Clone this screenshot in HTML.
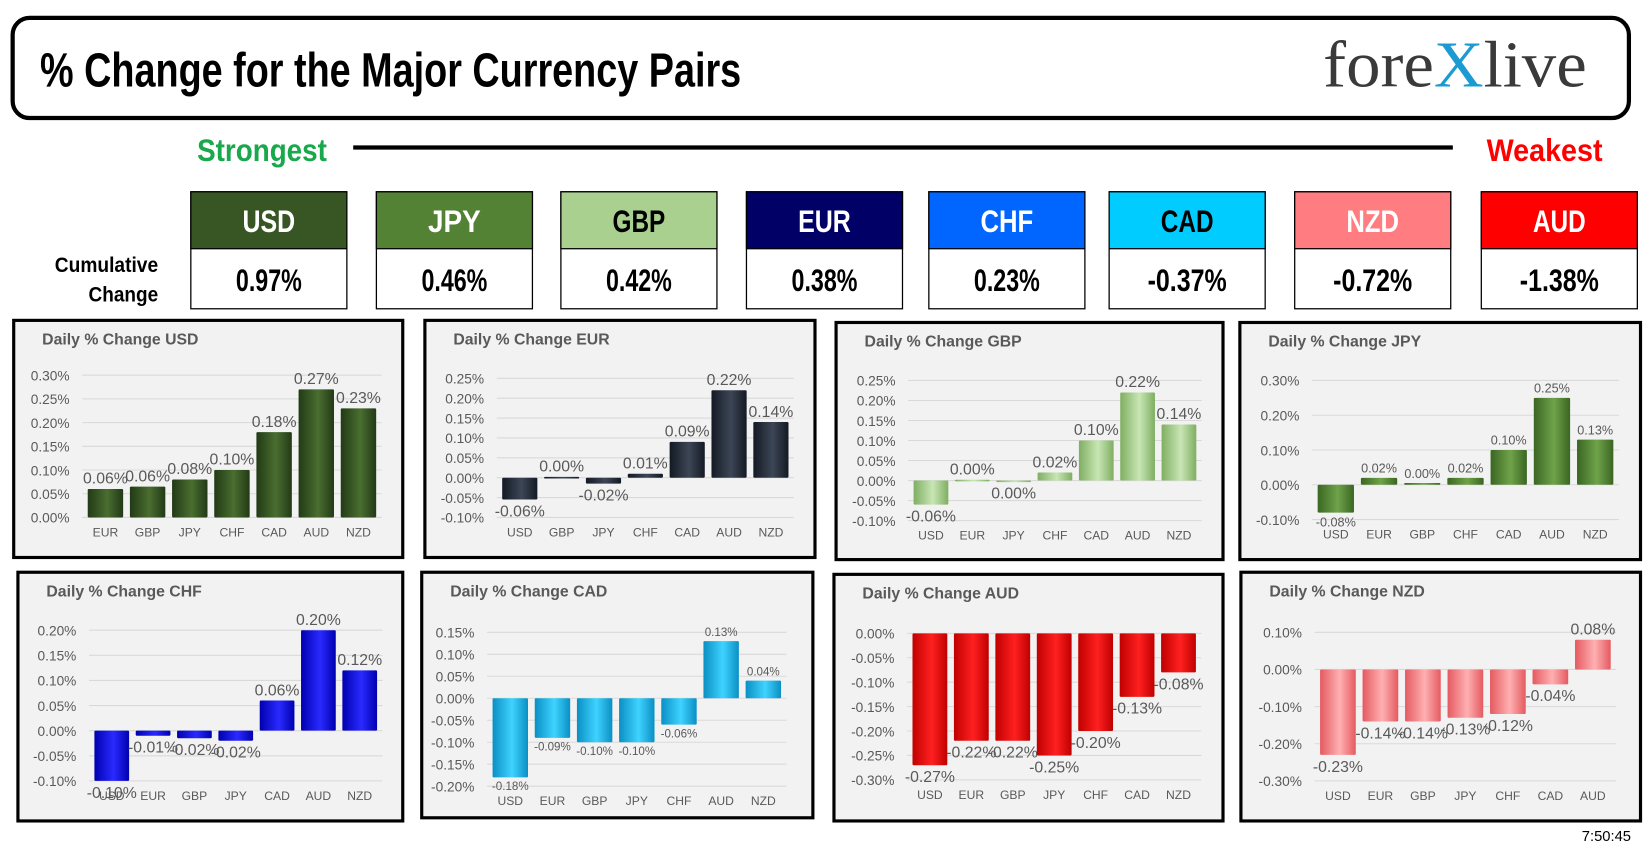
<!DOCTYPE html>
<html><head><meta charset="utf-8">
<style>
html,body{margin:0;padding:0;background:#fff;width:1650px;height:861px;overflow:hidden}
svg{display:block}
.cond{font-family:"Liberation Sans Narrow","Liberation Sans",sans-serif;font-weight:bold}
.ax{font-family:"Liberation Sans",sans-serif;fill:#595959}
</style></head><body>
<svg id="page" width="1650" height="861" viewBox="0 0 1565 817" preserveAspectRatio="none" xmlns="http://www.w3.org/2000/svg">
<defs></defs>
<rect x="12" y="17" width="1533" height="95" rx="16" fill="#fff" stroke="#000" stroke-width="4"/>
<text class="cond" x="38" y="82" font-size="46" textLength="665" lengthAdjust="spacingAndGlyphs" fill="#000">% Change for the Major Currency Pairs</text>
<text x="1255" y="82" font-family="'Liberation Serif',serif" font-size="62" textLength="250" lengthAdjust="spacingAndGlyphs" fill="#3a3a3a">fore<tspan fill="#1b9bd1">X</tspan>live</text>
<text class="cond" x="187" y="153" font-size="30" textLength="123" lengthAdjust="spacingAndGlyphs" fill="#19a84b">Strongest</text>
<line x1="335" y1="140" x2="1378" y2="140" stroke="#000" stroke-width="4"/>
<text class="cond" x="1410" y="153" font-size="30" textLength="110" lengthAdjust="spacingAndGlyphs" fill="#f00">Weakest</text>
<text class="cond" x="52" y="258" font-size="20" textLength="98" lengthAdjust="spacingAndGlyphs" fill="#000">Cumulative</text>
<text class="cond" x="84" y="286" font-size="20" textLength="66" lengthAdjust="spacingAndGlyphs" fill="#000">Change</text>
<g id="boxes"></g>
<g id="charts"></g>
<text x="1547" y="798" font-family="'Liberation Sans',sans-serif" font-size="14" text-anchor="end" fill="#000">7:50:45</text>
</svg>
<script>
const NS="http://www.w3.org/2000/svg";
const boxCurrencies=["USD","JPY","GBP","EUR","CHF","CAD","NZD","AUD"];
const boxValues=["0.97%","0.46%","0.42%","0.38%","0.23%","-0.37%","-0.72%","-1.38%"];
const boxColors=["#375623","#548235","#a9d08e","#000066","#0066ff","#00ccff","#ff7c80","#ff0000"];
const boxText=["#fff","#fff","#000","#fff","#fff","#000","#fff","#fff"];
const boxX=[181,357,532,708,881,1052,1228,1405];

const usdCats=["EUR","GBP","JPY","CHF","CAD","AUD","NZD"];
const usdVals=[0.06,0.065,0.08,0.10,0.18,0.27,0.23];
const usdLabels=["0.06%","0.06%","0.08%","0.10%","0.18%","0.27%","0.23%"];
const usdTicks=[0,0.05,0.10,0.15,0.20,0.25,0.30];

const eurCats=["USD","GBP","JPY","CHF","CAD","AUD","NZD"];
const eurVals=[-0.055,0.002,-0.015,0.01,0.09,0.22,0.14];
const eurLabels=["-0.06%","0.00%","-0.02%","0.01%","0.09%","0.22%","0.14%"];
const eurTicks=[-0.10,-0.05,0,0.05,0.10,0.15,0.20,0.25];

const gbpCats=["USD","EUR","JPY","CHF","CAD","AUD","NZD"];
const gbpVals=[-0.06,0.002,-0.003,0.02,0.10,0.22,0.14];
const gbpLabels=["-0.06%","0.00%","0.00%","0.02%","0.10%","0.22%","0.14%"];
const gbpTicks=[-0.10,-0.05,0,0.05,0.10,0.15,0.20,0.25];

const jpyCats=["USD","EUR","GBP","CHF","CAD","AUD","NZD"];
const jpyVals=[-0.08,0.02,0.005,0.02,0.10,0.25,0.13];
const jpyLabels=["-0.08%","0.02%","0.00%","0.02%","0.10%","0.25%","0.13%"];
const jpyTicks=[-0.10,0,0.10,0.20,0.30];

const chfCats=["USD","EUR","GBP","JPY","CAD","AUD","NZD"];
const chfVals=[-0.10,-0.01,-0.015,-0.02,0.06,0.20,0.12];
const chfLabels=["-0.10%","-0.01%","-0.02%","-0.02%","0.06%","0.20%","0.12%"];
const chfTicks=[-0.10,-0.05,0,0.05,0.10,0.15,0.20];

const cadCats=["USD","EUR","GBP","JPY","CHF","AUD","NZD"];
const cadVals=[-0.18,-0.09,-0.10,-0.10,-0.06,0.13,0.04];
const cadLabels=["-0.18%","-0.09%","-0.10%","-0.10%","-0.06%","0.13%","0.04%"];
const cadTicks=[-0.20,-0.15,-0.10,-0.05,0,0.05,0.10,0.15];

const audCats=["USD","EUR","GBP","JPY","CHF","CAD","NZD"];
const audVals=[-0.27,-0.22,-0.22,-0.25,-0.20,-0.13,-0.08];
const audLabels=["-0.27%","-0.22%","-0.22%","-0.25%","-0.20%","-0.13%","-0.08%"];
const audTicks=[-0.30,-0.25,-0.20,-0.15,-0.10,-0.05,0];

const nzdCats=["USD","EUR","GBP","JPY","CHF","CAD","AUD"];
const nzdVals=[-0.23,-0.14,-0.14,-0.13,-0.12,-0.04,0.08];
const nzdLabels=["-0.23%","-0.14%","-0.14%","-0.13%","-0.12%","-0.04%","0.08%"];
const nzdTicks=[-0.30,-0.20,-0.10,0,0.10];

function el(tag,attrs,parent,text){
  const e=document.createElementNS(NS,tag);
  for(const k in attrs)e.setAttribute(k,attrs[k]);
  if(text!==undefined)e.textContent=text;
  parent.appendChild(e);return e;
}

const bg=document.getElementById("boxes");
boxCurrencies.forEach((c,i)=>{
  const x=boxX[i];
  const g=el("g",{},bg);
  
  
  el("rect",{x:x,y:182,width:148,height:111,fill:"#fff",stroke:"#000","stroke-width":1.2},g);
  el("rect",{x:x,y:182,width:148,height:54,fill:boxColors[i],stroke:"#000","stroke-width":1.2},g);
  el("text",{class:"cond",x:x+74-25,y:220,"font-size":30,textLength:50,lengthAdjust:"spacingAndGlyphs",fill:boxText[i]},g,c);
  const vw=boxValues[i].length*12.5;
  el("text",{class:"cond",x:x+74-vw/2,y:276,"font-size":30,textLength:vw,lengthAdjust:"spacingAndGlyphs",fill:"#000"},g,boxValues[i]);
});

const defs=document.querySelector("defs");
function grad(id,dark,light){
  const g=el("linearGradient",{id:id,x1:0,y1:0,x2:1,y2:0},defs);
  el("stop",{offset:"0","stop-color":dark},g);
  el("stop",{offset:"0.55","stop-color":light},g);
  el("stop",{offset:"1","stop-color":dark},g);
}
grad("gUSD","#223a16","#4a6e30");
grad("gEUR","#141a24","#3d4656");
grad("gGBP","#7fae62","#c8e6b4");
grad("gJPY","#3a6622","#6fa34a");
grad("gCHF","#0000b0","#2a2aff");
grad("gCAD","#0a8fc4","#3fd3ff");
grad("gAUD","#c00000","#ff2020");
grad("gNZD","#e45a60","#ffb0b2");

const cg=document.getElementById("charts");
function drawChart(name,px,py,pw,ph,cats,vals,labels,ticks,yTop,yBot,x0,step,lblSize){
  const g=el("g",{},cg);
  
  
  el("rect",{x:px,y:py,width:pw,height:ph,fill:"#f2f2f2",stroke:"#000","stroke-width":3},g);
  const t=el("text",{class:"ax",x:px+27,y:py+23,"font-size":15,"font-weight":"bold"},g,"Daily % Change "+name);
  
  
  const tmin=Math.min(...ticks),tmax=Math.max(...ticks);
  const y=v=>yTop+(tmax-v)/(tmax-tmin)*(yBot-yTop);
  const gx1=x0-step*0.55, gx2=x0+step*6.55;
  ticks.forEach(v=>{
    el("line",{x1:gx1,x2:gx2,y1:y(v),y2:y(v),stroke:"#d9d9d9","stroke-width":1},g);
    const tl=el("text",{class:"ax",x:gx1-12,y:y(v)+5,"font-size":13,"text-anchor":"end"},g,v.toFixed(2)+"%");
    
    
  });
  const bw=step*0.84;
  const catY=yBot+18;
  cats.forEach((c,i)=>{
    const cx=x0+i*step;
    const v=vals[i];
    const y0=y(0),yv=y(v);
    const b=el("rect",{x:cx-bw/2,y:Math.min(y0,yv),width:bw,height:Math.max(1.5,Math.abs(yv-y0)),fill:"url(#g"+name+")",rx:1},g);
    
    
    const ly=v>=0?yv-5:yv+lblSize+1;
    const vl=el("text",{class:"ax",x:cx,y:ly,"font-size":lblSize,"text-anchor":"middle",fill:"#404040"},g,labels[i]);
    
    
    const cl=el("text",{class:"ax",x:cx,y:catY,"font-size":11.5,"text-anchor":"middle"},g,c);
    
    
  });
}
drawChart("USD",13,304,369,225,usdCats,usdVals,usdLabels,usdTicks,356,491,100,40,15);
drawChart("EUR",403,304,370,225,eurCats,eurVals,eurLabels,eurTicks,359,491,493,39.7,15);
drawChart("GBP",793,306,367,225,gbpCats,gbpVals,gbpLabels,gbpTicks,361,494,883,39.2,15);
drawChart("JPY",1176,306,380,225,jpyCats,jpyVals,jpyLabels,jpyTicks,361,493,1267,41,12);
drawChart("CHF",17,543,365,236,chfCats,chfVals,chfLabels,chfTicks,598,741,106,39.2,15);
drawChart("CAD",400,543,371,233,cadCats,cadVals,cadLabels,cadTicks,600,746,484,40,11);
drawChart("AUD",791,545,369,234,audCats,audVals,audLabels,audTicks,601,740,882,39.3,15);
drawChart("NZD",1177,543,379,236,nzdCats,nzdVals,nzdLabels,nzdTicks,600,741,1269,40.3,15);
</script>
</body></html>
